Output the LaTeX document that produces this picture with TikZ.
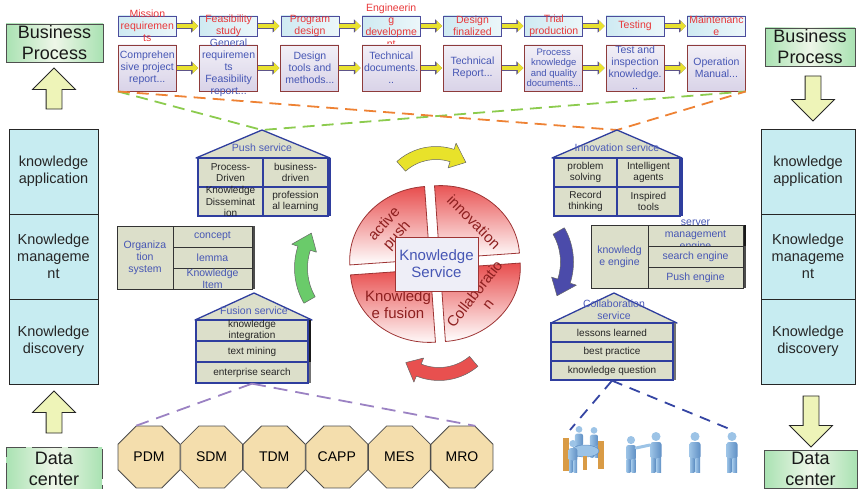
\documentclass[tikz,border=0pt]{standalone}
\usepackage{fontspec}
\setmainfont{Liberation Sans}
\usetikzlibrary{arrows.meta,shapes.geometric,shapes.arrows,shadows}

\definecolor{stageline}{HTML}{4B4C9C}
\definecolor{stagefill}{HTML}{CFEAF2}
\definecolor{stagered}{HTML}{E8383A}
\definecolor{docline}{HTML}{8E3B3B}
\definecolor{docfill}{HTML}{D9D3E8}
\definecolor{docblue}{HTML}{4656B4}
\definecolor{arrowfill}{HTML}{E9E12E}
\definecolor{arrowline}{HTML}{5E5588}
\definecolor{gline}{HTML}{4F4F4F}
\definecolor{gfill}{HTML}{A9E2B2}
\definecolor{gmid}{HTML}{EEF6E8}
\definecolor{paleyellow}{HTML}{EEF4B8}
\definecolor{layerfill}{HTML}{C7ECF1}
\definecolor{cellfill}{HTML}{DCDFCA}
\definecolor{cellblue}{HTML}{2F3E9E}
\definecolor{roofblue}{HTML}{4A5AB8}
\definecolor{kred}{HTML}{E84E4E}
\definecolor{kline}{HTML}{9E3434}
\definecolor{ktext}{HTML}{8E2020}
\definecolor{kbox}{HTML}{EEEEF7}
\definecolor{octfill}{HTML}{F4DEAD}
\definecolor{dgreen}{HTML}{8CCB4E}
\definecolor{dorange}{HTML}{EE8234}
\definecolor{dpurple}{HTML}{9B82C3}
\definecolor{dblue}{HTML}{3545A3}
\definecolor{cycyellow}{HTML}{E8E22A}
\definecolor{cycblue}{HTML}{4B4BAA}
\definecolor{cycred}{HTML}{E8504F}
\definecolor{cycgreen}{HTML}{6ACB6A}
\definecolor{manlight}{HTML}{9CC3E6}
\definecolor{mandark}{HTML}{5F8FC4}
\definecolor{chair}{HTML}{D99B45}

\begin{document}
\begin{tikzpicture}[x=1pt, y=-1pt,
  stage/.style={draw=stageline, line width=0.8, left color=stagefill, right color=stagefill!40, minimum width=58, minimum height=20, inner sep=0},
  stagetxt/.style={text=stagered, align=center, font=\fontsize{10.5}{12}\selectfont},
  doc/.style={draw=docline, line width=0.9, top color=docfill!35, bottom color=docfill, minimum width=58, minimum height=46, inner sep=0},
  doctxt/.style={text=docblue, align=center, font=\fontsize{10.5}{12}\selectfont},
  flow/.style={draw=arrowfill, line width=4.5, -{Triangle[length=5.5pt, width=10.5pt]}, shorten >=1,
    preaction={draw=arrowline, line width=6.3, -{Triangle[length=7pt, width=13pt]}}},
  gbox/.style={draw=gline, line width=0.8, left color=gfill, right color=gfill, middle color=gmid, inner sep=0},
  gtxt/.style={font=\fontsize{18}{21}\selectfont, align=center, text=black!90},
  layer/.style={draw=black!85, line width=0.8, fill=layerfill, minimum width=89, minimum height=85, align=center, font=\fontsize{14.5}{17}\selectfont, text=black!85},
  bigarrow/.style={single arrow, draw=black!85, fill=paleyellow, line width=0.8, inner xsep=0, inner ysep=7.5, single arrow head extend=13.5},
  roof/.style={draw=cellblue, line width=1.3, fill=cellfill, line join=round},
  rooftxt/.style={text=roofblue, font=\fontsize{10.5}{12}\selectfont, align=center},
  svc/.style={draw=cellblue, line width=1.3, fill=cellfill, inner sep=0},
  blk/.style={draw=black!80, line width=0.8, fill=cellfill, inner sep=0},
  celltxt/.style={text=black!85, align=center, font=\fontsize{10}{11.5}\selectfont},
  blktxt/.style={text=docblue, align=center, font=\fontsize{10.5}{12}\selectfont},
  bar/.style={drop shadow={shadow xshift=3pt, shadow yshift=0pt, opacity=1, fill=#1}},
  bar/.default=black!70,
  pie/.style={draw=kline, line width=0.8, top color=kred, middle color=kred, bottom color=white},
  pietxt/.style={text=ktext, font=\fontsize{15}{17}\selectfont, align=center, inner sep=0},
  cyc/.style={draw=black!60, line width=0.5, line join=round},
  oct/.style={regular polygon, regular polygon sides=8, minimum size=67, inner sep=0, draw=black!70, fill=octfill, line width=0.8, font=\fontsize{14}{16}\selectfont},
  gdash/.style={draw=dgreen, line width=1.8, dash pattern=on 12pt off 7pt},
  odash/.style={draw=dorange, line width=1.8, dash pattern=on 12pt off 7pt},
  pdash/.style={draw=dpurple, line width=1.8, dash pattern=on 14pt off 8pt},
  bdash/.style={draw=dblue, line width=1.8, dash pattern=on 11pt off 8pt},
  man/.pic={
    \shade[left color=manlight, right color=mandark, rounded corners=2.5] (-5.5,-30) rectangle (5.5,-13);
    \shade[left color=manlight, right color=mandark] (-5,-14) rectangle (-0.7,0);
    \shade[left color=manlight, right color=mandark] (0.7,-14) rectangle (5,0);
    \fill[manlight] (0,-35.5) circle (4.5);
  }
]
\useasboundingbox (0,0) rectangle (860,489);
\clip (0,0) rectangle (860,489);

% stages of the product life cycle
\foreach \t [count=\i] in {{Mission\\requiremen\\ts}, {Feasibility\\study}, {Program\\design},
    {Engineerin\\g\\developme\\nt}, {Design\\finalized}, {Trial\\production}, {Testing}, {Maintenanc\\e}}
  \node[stage, label={[stagetxt]center:\t}] (s\i) at ({66+81.3*\i},26) {};
\foreach \i [evaluate=\i as \j using int(\i+1)] in {1,...,7}
  \draw[flow] (s\i.east) -- (s\j.west);

% documents of each stage
\node[doc, label={[doctxt]center:{Comprehen\\sive project\\report...}}] (d1) at (147.3,68) {};
\node[doc, label={[doctxt]center:{General\\requiremen\\ts\\Feasibility\\report...}}] (d2) at (228.6,68) {};
\node[doc, label={[doctxt]center:{Design\\tools and\\methods...}}] (d3) at (309.9,68) {};
\node[doc, label={[doctxt]center:{Technical\\documents.\\..}}] (d4) at (391.2,68) {};
\node[doc, label={[doctxt]center:{Technical\\Report...}}] (d5) at (472.5,68) {};
\node[doc, label={[doctxt, font=\fontsize{9.5}{10.5}\selectfont]center:{Process\\knowledge\\and quality\\documents...}}] (d6) at (553.8,68) {};
\node[doc, label={[doctxt]center:{Test and\\inspection\\knowledge.\\..}}] (d7) at (635.1,68) {};
\node[doc, label={[doctxt]center:{Operation\\Manual...}}] (d8) at (716.4,68) {};
\foreach \i [evaluate=\i as \j using int(\i+1)] in {1,...,7}
  \draw[flow] (d\i.east) -- (d\j.west);

% left column
\node[gbox, minimum width=97, minimum height=38, label={[gtxt]center:{Business\\Process}}] (bpl) at (54.5,43) {};
\node[bigarrow, minimum height=41, rotate=90] (upa) at (54,92.5) {};
\node[layer] (kal) at (53.5,171.5) {knowledge\\application};
\node[layer] (kml) at (53.5,256.5) {Knowledge\\manageme\\nt};
\node[layer] (kdl) at (53.5,341.5) {Knowledge\\discovery};
\node[bigarrow, minimum height=42, rotate=90] (upb) at (54,416) {};
\node[gbox, dash pattern=on 30pt off 6pt, minimum width=96, minimum height=44, label={[gtxt]center:{Data\\center}}] (dcl) at (54,469) {};

% right column
\node[gbox, minimum width=90, minimum height=38, label={[gtxt]center:{Business\\Process}}] (bpr) at (810,47) {};
\node[bigarrow, minimum height=45, rotate=-90] (dna) at (813,94.5) {};
\node[layer, minimum width=94] (kar) at (808,171.5) {knowledge\\application};
\node[layer, minimum width=94] (kmr) at (808,256.5) {Knowledge\\manageme\\nt};
\node[layer, minimum width=94] (kdr) at (808,341.5) {Knowledge\\discovery};
\node[bigarrow, minimum height=51, rotate=-90] (dnb) at (811,417.5) {};
\node[gbox, minimum width=93, minimum height=38, label={[gtxt]center:{Data\\center}}] (dcr) at (810.5,469) {};

% links from the documents to the services
\coordinate (pushtop) at (262,130);
\coordinate (innotop) at (617,130);
\draw[gdash] (d1.south west) -- (pushtop) -- (d8.south east);
\draw[odash] (d1.south west) -- (innotop) -- (d8.south east);

% push service
\draw[roof] (196,158) -- (pushtop) -- (330,158) -- cycle;
\node[rooftxt] (pushlbl) at (262,148) {Push service};
\node[svc, minimum width=65, minimum height=29, label={[celltxt]center:{Process-\\Driven}}] (p1) at (230.5,172.5) {};
\node[svc, bar=cellblue, minimum width=65, minimum height=29, label={[celltxt]center:{business-\\driven}}] (p2) at (295.5,172.5) {};
\node[svc, minimum width=65, minimum height=29, label={[celltxt]center:{Knowledge\\Disseminat\\ion}}] (p3) at (230.5,201.5) {};
\node[svc, bar=cellblue, minimum width=65, minimum height=29, label={[celltxt]center:{profession\\al learning}}] (p4) at (295.5,201.5) {};

% innovation service
\draw[roof] (552,158) -- (innotop) -- (682,158) -- cycle;
\node[rooftxt] (innolbl) at (617,148) {Innovation service};
\node[svc, minimum width=63, minimum height=29, label={[celltxt]center:{problem\\solving}}] (i1) at (585.5,172.5) {};
\node[svc, bar=cellblue, minimum width=63, minimum height=29, label={[celltxt]center:{Intelligent\\agents}}] (i2) at (648.5,172.5) {};
\node[svc, minimum width=63, minimum height=29, label={[celltxt]center:{Record\\thinking}}] (i3) at (585.5,201.5) {};
\node[svc, bar=cellblue, minimum width=63, minimum height=29, label={[celltxt]center:{Inspired\\tools}}] (i4) at (648.5,201.5) {};

% organization system
\node[blk, minimum width=56, minimum height=63, label={[blktxt]center:{Organiza\\tion\\system}}] (org) at (145,257.5) {};
\node[blk, bar, minimum width=79, minimum height=21, label={[blktxt]center:concept}] (o1) at (212.5,236.5) {};
\node[blk, bar, minimum width=79, minimum height=21, label={[blktxt]center:lemma}] (o2) at (212.5,257.5) {};
\node[blk, bar, minimum width=79, minimum height=21, label={[blktxt]center:{Knowledge\\Item}}] (o3) at (212.5,278.5) {};

% knowledge engine
\node[blk, minimum width=57, minimum height=63, label={[blktxt]center:{knowledg\\e engine}}] (eng) at (619.5,256.5) {};
\node[blk, bar=black!90, minimum width=95, minimum height=21, label={[blktxt]center:{server\\management\\engine}}] (e1) at (695.5,235.5) {};
\node[blk, bar, minimum width=95, minimum height=21, label={[blktxt]center:search engine}] (e2) at (695.5,256.5) {};
\node[blk, bar, minimum width=95, minimum height=21, label={[blktxt]center:Push engine}] (e3) at (695.5,277.5) {};

% fusion service
\coordinate (fustop) at (254,293);
\draw[roof] (195,320) -- (fustop) -- (312,320) -- cycle;
\node[rooftxt] (fuslbl) at (254,311) {Fusion service};
\node[svc, bar=black!90, minimum width=112, minimum height=21, label={[celltxt]center:{knowledge\\integration}}] (f1) at (252,330.5) {};
\node[svc, bar=black!90, minimum width=112, minimum height=21, label={[celltxt]center:text mining}] (f2) at (252,351.5) {};
\node[svc, bar=black!55, minimum width=112, minimum height=21, label={[celltxt]center:enterprise search}] (f3) at (252,372.5) {};

% collaboration service
\coordinate (coltop) at (614,293);
\draw[roof] (551,323) -- (coltop) -- (677,323) -- cycle;
\node[rooftxt] (collbl) at (614,310) {Collaboration\\service};
\node[svc, bar=black!55, minimum width=122, minimum height=19, label={[celltxt]center:lessons learned}] (c1) at (612,332.5) {};
\node[svc, bar=black!55, minimum width=122, minimum height=19, label={[celltxt]center:best practice}] (c2) at (612,351.5) {};
\node[svc, bar=black!55, minimum width=122, minimum height=19, label={[celltxt]center:knowledge question}] (c3) at (612,370.5) {};

% knowledge service wheel
\begin{scope}[rotate around={4:(435,264)}]
  \foreach \a/\dx/\dy in {180/-5/-5, 270/5/-5, 0/5/5, 90/-5/5}
    \path[pie] ([shift={(\dx,\dy)}]435,264) -- +(\a:80 and 73)
      arc[start angle=\a, end angle=\a+90, x radius=80, y radius=73] -- cycle;
\end{scope}
\node[pietxt, rotate=48] (lpush) at (391,230) {active\\push};
\node[pietxt, rotate=-45] (linno) at (474,222) {innovation};
\node[pietxt] (lfus) at (398,305) {Knowledg\\e fusion};
\node[pietxt, rotate=52] (lcol) at (481,299) {Collaboratio\\n};
\node[draw=kline, fill=kbox, line width=0.8, minimum width=83, minimum height=54, text=docblue,
  font=\fontsize{15}{17}\selectfont, align=center] (ks) at (436.5,264) {Knowledge\\Service};

% curved arrows round the wheel
\foreach \cx/\cy/\r/\ta/\ha/\tip/\col in {436/205/52/-132/-72/-55/cycyellow, 505/262/62/-30/18/33/cycblue,
    439/320/54/50/112/128/cycred, 365/268/64/150/198/213/cycgreen}{
  \pgfmathsetmacro\rout{\r+6.5}
  \pgfmathsetmacro\rin{\r-6.5}
  \pgfmathsetmacro\hout{\r+13}
  \pgfmathsetmacro\hin{\r-13}
  \filldraw[cyc, fill=\col, shift={(\cx,\cy)}] (\ta:\rout) arc[start angle=\ta, end angle=\ha, radius=\rout]
    -- (\ha:\hout) -- (\tip:\r) -- (\ha:\hin) -- (\ha:\rin) arc[start angle=\ha, end angle=\ta, radius=\rin] -- cycle;
}

% data sources
\foreach \t [count=\i] in {PDM, SDM, TDM, CAPP, MES, MRO}
  \node[oct] (src\i) at ({86.4+62.6*\i},457) {\t};
\draw[pdash] (f3.south) -- (src1.112.5);
\draw[pdash] (f3.south) -- (src6.67.5);

% people
\coordinate (meet) at (570,430);
\coordinate (solo) at (732,430);
\draw[bdash] (c3.south) -- (meet);
\draw[bdash] (c3.south) -- (solo);
\fill[chair] (563,438) rectangle (569,471);
\fill[chair] (598,441) rectangle (604,469);
\pic[scale=0.75] at (579,456) {man};
\pic[scale=0.75] at (594,457) {man};
\filldraw[fill=manlight, draw=mandark, line width=0.5] (585,451) ellipse (14 and 6);
\fill[chair] (583,456) rectangle (587,470);
\pic[scale=0.8] at (573,472) {man};
\pic[scale=0.9] at (631,472) {man};
\pic at (656,472) {man};
\draw[manlight, line width=3, line cap=round] (636,448) -- (650,445);
\pic at (695,472) {man};
\pic at (732,472) {man};
\end{tikzpicture}
\end{document}
